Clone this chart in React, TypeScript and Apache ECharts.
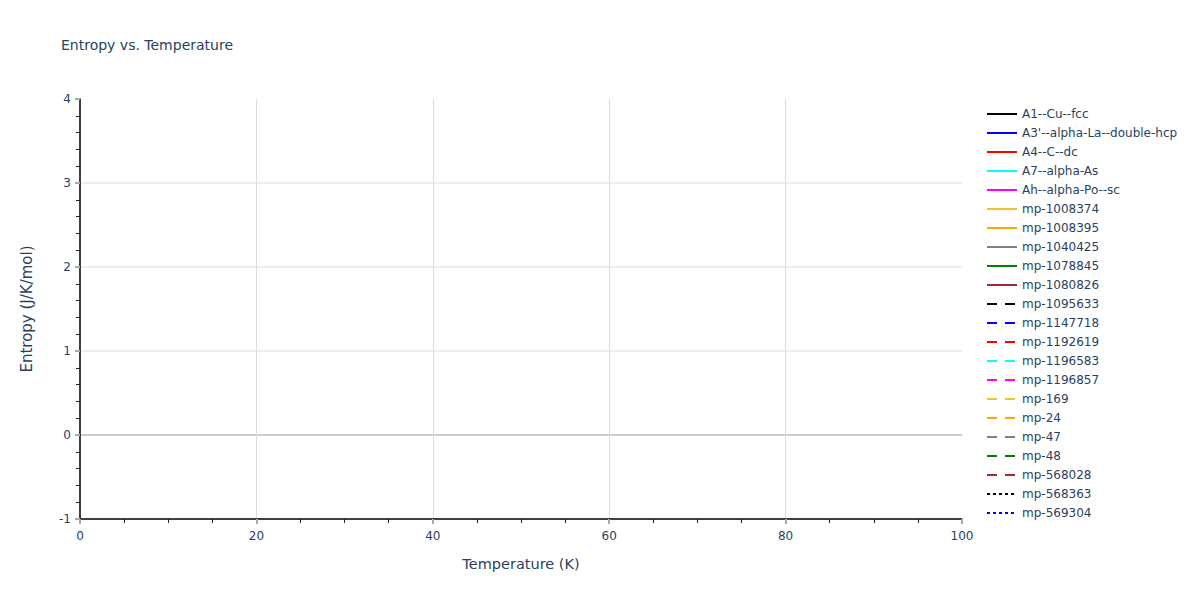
import { useEffect, useRef } from "react";
import * as echarts from "echarts";

// Series names as shown in the legend (no data points are plotted in the reference)
const seriesNames = [
  "A1--Cu--fcc",
  "A3'--alpha-La--double-hcp",
  "A4--C--dc",
  "A7--alpha-As",
  "Ah--alpha-Po--sc",
  "mp-1008374",
  "mp-1008395",
  "mp-1040425",
  "mp-1078845",
  "mp-1080826",
  "mp-1095633",
  "mp-1147718",
  "mp-1192619",
  "mp-1196583",
  "mp-1196857",
  "mp-169",
  "mp-24",
  "mp-47",
  "mp-48",
  "mp-568028",
  "mp-568363",
  "mp-569304",
];

const seriesColors = [
  "#000000", "#0000ff", "#ff0000", "#00ffff", "#ff00ff",
  "#f0c330", "#ffa500", "#808080", "#008000", "#a52a2a",
  "#000000", "#0000ff", "#ff0000", "#00ffff", "#ff00ff",
  "#f0c330", "#ffa500", "#808080", "#008000", "#a52a2a",
  "#000000", "#0000ff",
];

const seriesDash: ("solid" | "dash" | "dot")[] = [
  "solid", "solid", "solid", "solid", "solid",
  "solid", "solid", "solid", "solid", "solid",
  "dash", "dash", "dash", "dash", "dash",
  "dash", "dash", "dash", "dash", "dash",
  "dot", "dot",
];

// Entropy values per series: empty in the reference
const seriesData: number[][][] = seriesNames.map(() => []);

const xRange = [0, 100];
const yRange = [-1, 4];

const FONT = "'DejaVu Sans', Verdana, sans-serif";
const TEXT = "#2a3f5f";

export default function App() {
  const ref = useRef<HTMLDivElement>(null);

  useEffect(() => {
    if (!ref.current) return;
    const chart = echarts.init(ref.current, undefined, { renderer: "svg" });

    const dashType = (d: string) =>
      d === "dash" ? [10, 8] : d === "dot" ? [3, 3] : "solid";

    chart.setOption({
      animation: false,
      textStyle: { fontFamily: FONT },
      title: {
        text: "Entropy vs. Temperature",
        left: 56,
        top: 33,
        textStyle: { fontFamily: FONT, fontSize: 14, fontWeight: "normal", color: TEXT },
      },
      legend: {
        orient: "vertical",
        left: 981,
        top: 103,
        itemWidth: 30,
        itemHeight: 14,
        itemGap: 7,
        itemStyle: { opacity: 0 },
        textStyle: { fontFamily: FONT, fontSize: 12, color: TEXT },
        data: seriesNames,
      },
      grid: { left: 80, top: 99, right: 238, bottom: 81, containLabel: false },
      xAxis: {
        type: "value",
        min: xRange[0],
        max: xRange[1],
        interval: 20,
        name: "Temperature (K)",
        nameLocation: "middle",
        nameGap: 37,
        nameTextStyle: { fontFamily: FONT, fontSize: 14.5, color: TEXT },
        axisLine: { show: true, onZero: false, lineStyle: { color: "#000", width: 1.5 } },
        axisTick: { show: true, length: 5, lineStyle: { color: "#aaa", width: 2 } },
        minorTick: { show: true, splitNumber: 4, length: 4, lineStyle: { color: "#222", width: 1 } },
        axisLabel: { margin: 11, fontSize: 12, color: TEXT, fontFamily: FONT },
        splitLine: {
          show: true,
          lineStyle: { color: ["transparent", "#dddddd", "#dddddd", "#dddddd", "#dddddd", "transparent"], width: 1 },
        },
      },
      yAxis: {
        type: "value",
        min: yRange[0],
        max: yRange[1],
        interval: 1,
        name: "Entropy (J/K/mol)",
        nameLocation: "middle",
        nameGap: 46,
        nameTextStyle: { fontFamily: FONT, fontSize: 15, color: TEXT },
        axisLine: { show: true, lineStyle: { color: "#000", width: 1.5 } },
        axisTick: { show: true, length: 5, lineStyle: { color: "#aaa", width: 2 } },
        minorTick: { show: true, splitNumber: 5, length: 4, lineStyle: { color: "#222", width: 1 } },
        axisLabel: { margin: 9, fontSize: 12, color: TEXT, fontFamily: FONT },
        splitLine: {
          show: true,
          lineStyle: { color: ["transparent", "#cccccc", "#eeeeee", "#eeeeee", "#eeeeee", "transparent"], width: 2 },
        },
      },
      series: seriesNames.map((name, i) => ({
        name,
        type: "line",
        data: seriesData[i],
        symbol: "none",
        color: seriesColors[i],
        lineStyle: { color: seriesColors[i], width: 2, type: dashType(seriesDash[i]) },
      })),
    });

    return () => chart.dispose();
  }, []);

  return (
    <div
      ref={ref}
      style={{ position: "fixed", left: 0, top: 0, width: 1200, height: 600, background: "#fff" }}
    />
  );
}
